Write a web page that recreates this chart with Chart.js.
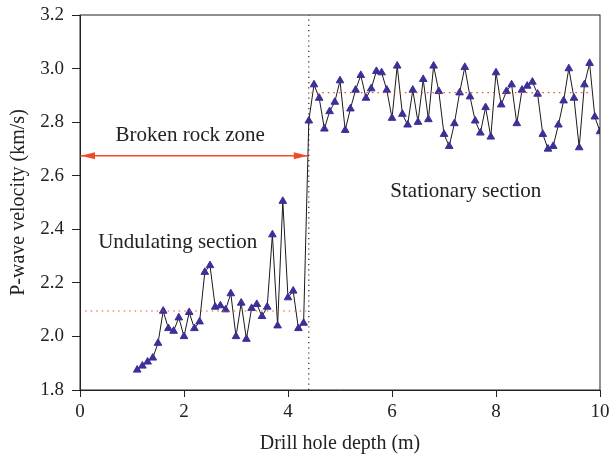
<!DOCTYPE html>
<html>
<head>
<meta charset="utf-8">
<script src="https://cdn.jsdelivr.net/npm/chart.js@4.4.1/dist/chart.umd.min.js"></script>
<style>
    html, body { margin: 0; padding: 0; background: #fff; }
    #wrap { width: 611px; height: 462px; }
</style>
</head>
<body>
<div id="wrap"><canvas id="velocityChart"></canvas></div>
<script>
// drill hole depth (m)
const depth = [
    1.1, 1.2, 1.3, 1.4, 1.5, 1.6, 1.7, 1.8, 1.9,
    2.0, 2.1, 2.2, 2.3, 2.4, 2.5, 2.6, 2.7, 2.8, 2.9,
    3.0, 3.1, 3.2, 3.3, 3.4, 3.5, 3.6, 3.7, 3.8, 3.9,
    4.0, 4.1, 4.2, 4.3, 4.4, 4.5, 4.6, 4.7, 4.8, 4.9,
    5.0, 5.1, 5.2, 5.3, 5.4, 5.5, 5.6, 5.7, 5.8, 5.9,
    6.0, 6.1, 6.2, 6.3, 6.4, 6.5, 6.6, 6.7, 6.8, 6.9,
    7.0, 7.1, 7.2, 7.3, 7.4, 7.5, 7.6, 7.7, 7.8, 7.9,
    8.0, 8.1, 8.2, 8.3, 8.4, 8.5, 8.6, 8.7, 8.8, 8.9,
    9.0, 9.1, 9.2, 9.3, 9.4, 9.5, 9.6, 9.7, 9.8, 9.9,
    10.0
];

// P-wave velocity (km/s)
const velocity = [
    1.875, 1.89, 1.905, 1.92, 1.975, 2.095, 2.03, 2.02, 2.07,
    2.0, 2.09, 2.03, 2.055, 2.24, 2.265, 2.11, 2.115, 2.1, 2.16,
    2.0, 2.125, 1.99, 2.105, 2.12, 2.075, 2.11, 2.38, 2.04, 2.505,
    2.145, 2.17, 2.03, 2.05, 2.805, 2.94, 2.89, 2.775, 2.84, 2.875,
    2.955, 2.77, 2.85, 2.92, 2.975, 2.89, 2.925, 2.99, 2.985, 2.92,
    2.815, 3.01, 2.83, 2.79, 2.92, 2.8, 2.96, 2.81, 3.01, 2.915,
    2.755, 2.71, 2.795, 2.91, 3.005, 2.895, 2.805, 2.76, 2.855, 2.745,
    2.985, 2.865, 2.915, 2.94, 2.795, 2.92, 2.935, 2.95, 2.905, 2.755,
    2.70, 2.71, 2.79, 2.88, 3.0, 2.89, 2.705, 2.94, 3.02, 2.82,
    2.765
];

// mean lines of the two sections
const undulatingMeanX = [0.1, 4.35];
const undulatingMeanY = [2.095, 2.095];
const stationaryMeanX = [4.45, 9.85];
const stationaryMeanY = [2.91, 2.91];

// boundary of broken rock zone
const boundaryX = [4.4, 4.4];
const boundaryY = [1.8, 3.2];
const arrowX = [0, 4.4];
const arrowY = [2.675, 2.675];

const xTicks = [0, 2, 4, 6, 8, 10];
const yTicks = [1.8, 2.0, 2.2, 2.4, 2.6, 2.8, 3.0, 3.2];

const labels = [
    { text: "Broken rock zone", x: 2.12, y: 2.75 },
    { text: "Undulating section", x: 1.88, y: 2.35 },
    { text: "Stationary section", x: 7.42, y: 2.54 }
];

function pairs(xs, ys)
{
    return xs.map((x, i) => ({ x: x, y: ys[i] }));
}

const FONT = "'Liberation Serif', 'DejaVu Serif', serif";
const RED = "#ee4b2b";

// frame, arrow heads and text
const overlay = {
    id: "overlay",
    afterDatasetsDraw(chart)
    {
        const ctx = chart.ctx;
        const xs = chart.scales.x;
        const ys = chart.scales.y;
        const a = chart.chartArea;

        ctx.save();
        ctx.strokeStyle = "#222";
        ctx.lineWidth = 1;
        ctx.strokeRect(a.left, a.top, a.right - a.left, a.bottom - a.top);

        const ay = ys.getPixelForValue(arrowY[0]);
        const x0 = xs.getPixelForValue(arrowX[0]);
        const x1 = xs.getPixelForValue(arrowX[1]);
        ctx.fillStyle = RED;
        ctx.beginPath();
        ctx.moveTo(x0 + 1, ay);
        ctx.lineTo(x0 + 15, ay - 3.5);
        ctx.lineTo(x0 + 15, ay + 3.5);
        ctx.closePath();
        ctx.fill();
        ctx.beginPath();
        ctx.moveTo(x1 - 1, ay);
        ctx.lineTo(x1 - 15, ay - 3.5);
        ctx.lineTo(x1 - 15, ay + 3.5);
        ctx.closePath();
        ctx.fill();

        ctx.fillStyle = "#222";
        ctx.font = "21px " + FONT;
        ctx.textAlign = "center";
        ctx.textBaseline = "middle";
        labels.forEach(l => {
            ctx.fillText(l.text, xs.getPixelForValue(l.x), ys.getPixelForValue(l.y));
        });
        ctx.restore();
    }
};

const ctx = document.getElementById("velocityChart").getContext("2d");

const velocityChart = new Chart(ctx, {
    type: "line",
    data: {
        datasets: [
            {
                data: pairs(undulatingMeanX, undulatingMeanY),
                borderColor: RED,
                borderWidth: 1.2,
                borderDash: [1.5, 4],
                pointRadius: 0
            },
            {
                data: pairs(stationaryMeanX, stationaryMeanY),
                borderColor: RED,
                borderWidth: 1.2,
                borderDash: [1.5, 4],
                pointRadius: 0
            },
            {
                data: pairs(boundaryX, boundaryY),
                borderColor: "#222",
                borderWidth: 1.2,
                borderDash: [1.2, 4],
                pointRadius: 0
            },
            {
                data: pairs(arrowX, arrowY),
                borderColor: RED,
                borderWidth: 1.5,
                pointRadius: 0
            },
            {
                data: pairs(depth, velocity),
                borderColor: "#1a1a1a",
                borderWidth: 1,
                pointStyle: "triangle",
                pointRadius: 4.4,
                pointBackgroundColor: "#3a3097",
                pointBorderColor: "#3a3097",
                pointBorderWidth: 1
            }
        ]
    },
    options: {
        responsive: true,
        maintainAspectRatio: false,
        animation: false,
        layout: {
            padding: { top: 15, right: 11, left: 0, bottom: 0 }
        },
        plugins: {
            legend: { display: false },
            tooltip: { enabled: false }
        },
        scales: {
            x: {
                type: "linear",
                min: 0,
                max: 10,
                afterFit: s => {
                    s.height = 72;
                    s.paddingLeft = 0;
                    s.paddingRight = 0;
                },
                afterBuildTicks: s => { s.ticks = xTicks.map(v => ({ value: v })); },
                grid: { drawOnChartArea: false, tickLength: 7, color: "#222" },
                border: { color: "#222" },
                ticks: {
                    color: "#222",
                    padding: 4,
                    font: { family: FONT, size: 19 }
                },
                title: {
                    display: true,
                    text: "Drill hole depth (m)",
                    color: "#222",
                    padding: { top: 2, bottom: 6 },
                    font: { family: FONT, size: 20 }
                }
            },
            y: {
                min: 1.8,
                max: 3.2,
                afterFit: s => {
                    s.width = 80;
                    s.paddingTop = 0;
                    s.paddingBottom = 0;
                },
                afterBuildTicks: s => { s.ticks = yTicks.map(v => ({ value: v })); },
                grid: { drawOnChartArea: false, tickLength: 8, color: "#222" },
                border: { color: "#222" },
                ticks: {
                    color: "#222",
                    padding: 8,
                    callback: v => v.toFixed(1),
                    font: { family: FONT, size: 19 }
                },
                title: {
                    display: true,
                    text: "P-wave velocity (km/s)",
                    color: "#222",
                    padding: { top: 7, bottom: 2 },
                    font: { family: FONT, size: 20 }
                }
            }
        }
    },
    plugins: [overlay]
});
</script>
</body>
</html>
